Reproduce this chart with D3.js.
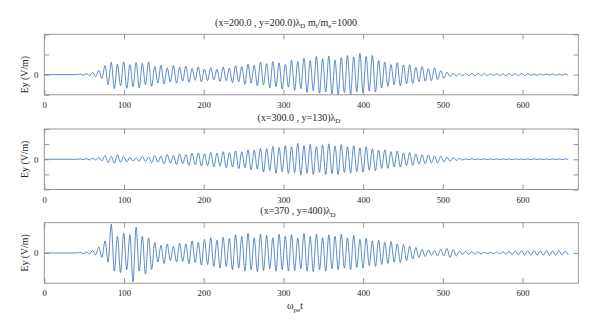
<!DOCTYPE html>
<html>
<head>
<meta charset="utf-8">
<script src="https://cdn.jsdelivr.net/npm/d3@7/dist/d3.min.js"></script>
<style>
  body { margin: 0; background: #fff; }
  svg text { font-family: "Liberation Serif", "Times New Roman", serif; fill: #262626; }
</style>
</head>
<body>
<svg id="chart" width="600" height="331"></svg>
<script>
// time grid of the extrema: first peak at t0, one cycle every `period`
var t0 = 45;
var period = 7.8;
var xTicks = [0, 100, 200, 300, 400, 500, 600];

// panel 1 : (x=200.0 , y=200.0)
var peaks1 = [.03, .05, .12, .22, .45, .62, .52, .64, .5, .6,
              .56, .62, .4, .46, .34, .45, .36, .42, .3, .38,
              .28, .34, .26, .38, .32, .45, .4, .52, .46, .62,
              .55, .66, .58, .5, .72, .66, .82, .7, .9, .78,
              .93, .72, .85, .95, .88, 1.05, .9, .95, .7, .62,
              .5, .6, .48, .5, .36, .4, .3, .34, .2, .12,
              .07, .05, .06, .05, .07, .05, .04, .05, .04, .05,
              .04, .05, .04, .03, .04, .03, .04, .03, .03];
var troughs1 = [-.03, -.05, -.1, -.2, -.5, -.7, -.55, -.68, -.6, -.66,
                -.5, -.58, -.42, -.46, -.36, -.42, -.32, -.38, -.28, -.36,
                -.3, -.26, -.34, -.3, -.4, -.36, -.48, -.42, -.55, -.5,
                -.66, -.6, -.72, -.62, -.78, -.7, -.88, -.8, -.92, -.86,
                -.95, -1.0, -.9, -.98, -.85, -.9, -.82, -.86, -.66, -.58,
                -.5, -.55, -.45, -.44, -.35, -.32, -.3, -.25, -.18, -.1,
                -.07, -.05, -.05, -.06, -.05, -.05, -.04, -.04, -.05, -.04,
                -.04, -.05, -.04, -.04, -.03, -.03, -.04, -.03, -.03];

// panel 2 : (x=300.0 , y=130)
var peaks2 = [.02, .04, .06, .12, .25, .2, .3, .18, .12, .08,
              .18, .14, .25, .2, .32, .26, .36, .3, .4, .42,
              .36, .45, .4, .5, .44, .55, .5, .62, .6, .72,
              .7, .85, .78, .9, .82, 1.05, .9, 1.0, .85, .95,
              1.02, .88, .98, .82, .9, .75, .82, .7, .6, .62,
              .5, .55, .42, .45, .35, .3, .28, .22, .2, .15,
              .1, .05, .03, .03, .02, .03, .02, .03, .02, .02,
              .03, .02, .02, .03, .02, .02, .02, .02, .02];
var troughs2 = [-.02, -.04, -.05, -.1, -.22, -.26, -.2, -.18, -.1, -.12,
                -.15, -.22, -.2, -.3, -.25, -.35, -.3, -.4, -.36, -.45,
                -.42, -.5, -.46, -.55, -.5, -.62, -.56, -.7, -.66, -.85,
                -.75, -.92, -.82, -.95, -.88, -1.05, -.92, -1.0, -.86, -1.0,
                -.95, -1.02, -.88, -.92, -.82, -.85, -.72, -.75, -.6, -.6,
                -.5, -.52, -.42, -.4, -.32, -.3, -.25, -.24, -.18, -.14,
                -.08, -.05, -.03, -.02, -.03, -.02, -.03, -.02, -.02, -.03,
                -.02, -.02, -.03, -.02, -.02, -.02, -.02, -.02, -.02];

// panel 3 : (x=370 , y=400)
var peaks3 = [.02, .03, .08, .2, .4, .95, .55, .65, .6, .85,
              .55, .5, .35, .25, .3, .22, .32, .3, .4, .35,
              .45, .5, .42, .52, .48, .6, .55, .65, .5, .62,
              .58, .5, .62, .55, .6, .5, .65, .55, .62, .5,
              .6, .55, .62, .5, .58, .45, .48, .4, .42, .35,
              .38, .3, .28, .22, .18, .12, .1, .08, .12, .15,
              .12, .06, .05, .04, .03, .02, .02, .03, .04, .05,
              .06, .08, .07, .08, .06, .08, .07, .08, .06];
var troughs3 = [-.02, -.03, -.06, -.15, -.3, -.6, -.65, -.55, -.95, -.6,
                -.7, -.55, -.3, -.35, -.25, -.3, -.28, -.35, -.32, -.4,
                -.38, -.45, -.5, -.45, -.55, -.5, -.6, -.55, -.62, -.58,
                -.52, -.6, -.55, -.6, -.58, -.52, -.6, -.62, -.55, -.6,
                -.52, -.55, -.5, -.55, -.48, -.5, -.42, -.45, -.38, -.35,
                -.3, -.32, -.25, -.2, -.15, -.12, -.08, -.1, -.1, -.15,
                -.1, -.05, -.05, -.04, -.03, -.02, -.02, -.03, -.04, -.05,
                -.06, -.07, -.08, -.07, -.07, -.08, -.07, -.07, -.06];

var panels = [
  {title: [["(x=200.0 , y=200.0)λ"], ["D", "sub"], [" m"], ["i", "sub"], ["/m"], ["e", "sub"], ["=1000"]],
   titleX: 286, peaks: peaks1, troughs: troughs1, yDomain: [-1, 2], yTicks: [-1, 0, 1, 2], top: 34.3},
  {title: [["(x=300.0 , y=130)λ"], ["D", "sub"]],
   titleX: 299, peaks: peaks2, troughs: troughs2, yDomain: [-2, 2], yTicks: [-2, -1, 0, 1, 2], top: 129},
  {title: [["(x=370 , y=400)λ"], ["D", "sub"]],
   titleX: 298, peaks: peaks3, troughs: troughs3, yDomain: [-1, 1], yTicks: [0], top: 222.7}
];

var left = 44.3, right = 578.3, h = 60.5;
var svg = d3.select("#chart");

var x = d3.scaleLinear().domain([0, 670]).range([left, right]);

panels.forEach(function (p) {
  var y = d3.scaleLinear().domain(p.yDomain).range([p.top + h, p.top]);

  // peaks and troughs alternate, half a period apart
  var pts = [[0, 0], [t0 - period / 2, 0]];
  p.peaks.forEach(function (v, k) {
    pts.push([t0 + k * period, v]);
    pts.push([t0 + k * period + period / 2, p.troughs[k]]);
  });

  var g = svg.append("g");

  var line = d3.line()
    .x(function (d) { return x(d[0]); })
    .y(function (d) { return y(d[1]); })
    .curve(d3.curveMonotoneX);

  g.append("path")
    .datum(pts)
    .attr("d", line)
    .attr("fill", "none")
    .attr("stroke", "#2166b8")
    .attr("stroke-width", 0.75);

  // box
  g.append("rect")
    .attr("x", left).attr("y", p.top)
    .attr("width", right - left).attr("height", h)
    .attr("fill", "none").attr("stroke", "#8c8c8c").attr("stroke-width", 0.9);

  var fmt = function (d) { return d === 0 ? "0" : ""; };

  var axB = g.append("g").attr("transform", "translate(0," + (p.top + h) + ")")
    .call(d3.axisBottom(x).tickValues(xTicks).tickSize(-5).tickPadding(7));
  var axT = g.append("g").attr("transform", "translate(0," + p.top + ")")
    .call(d3.axisTop(x).tickValues(xTicks).tickSize(-5).tickFormat(""));
  var axL = g.append("g").attr("transform", "translate(" + left + ",0)")
    .call(d3.axisLeft(y).tickValues(p.yTicks).tickSize(-5).tickPadding(6).tickFormat(fmt));
  var axR = g.append("g").attr("transform", "translate(" + right + ",0)")
    .call(d3.axisRight(y).tickValues(p.yTicks).tickSize(-5).tickFormat(""));

  [axB, axT, axL, axR].forEach(function (a) {
    a.select(".domain").remove();
    a.selectAll(".tick line").attr("stroke", "#8c8c8c").attr("stroke-width", 0.9);
    a.selectAll(".tick text").attr("font-size", 8.8).attr("font-family", "Liberation Serif").attr("fill", "#262626");
  });

  // title with subscripts
  var t = g.append("text")
    .attr("x", p.titleX)
    .attr("y", p.top - 8.5)
    .attr("text-anchor", "middle")
    .attr("font-size", 10);
  p.title.forEach(function (s) {
    var ts = t.append("tspan").text(s[0]);
    if (s[1] === "sub") ts.attr("font-size", 7).attr("dy", 2.5);
    else if (t.selectAll("tspan").size() > 1) ts.attr("dy", -2.5);
  });

  // y label
  g.append("text")
    .attr("transform", "translate(28," + y(0) + ") rotate(-90)")
    .attr("text-anchor", "middle")
    .attr("font-size", 9.8)
    .text("Ey (V/m)");
});

// x label
var xl = svg.append("text")
  .attr("x", 295).attr("y", 309)
  .attr("text-anchor", "middle")
  .attr("font-size", 10);
xl.append("tspan").text("ω");
xl.append("tspan").text("pe").attr("font-size", 7).attr("dy", 2.5);
xl.append("tspan").text("t").attr("dy", -2.5);
</script>
</body>
</html>
